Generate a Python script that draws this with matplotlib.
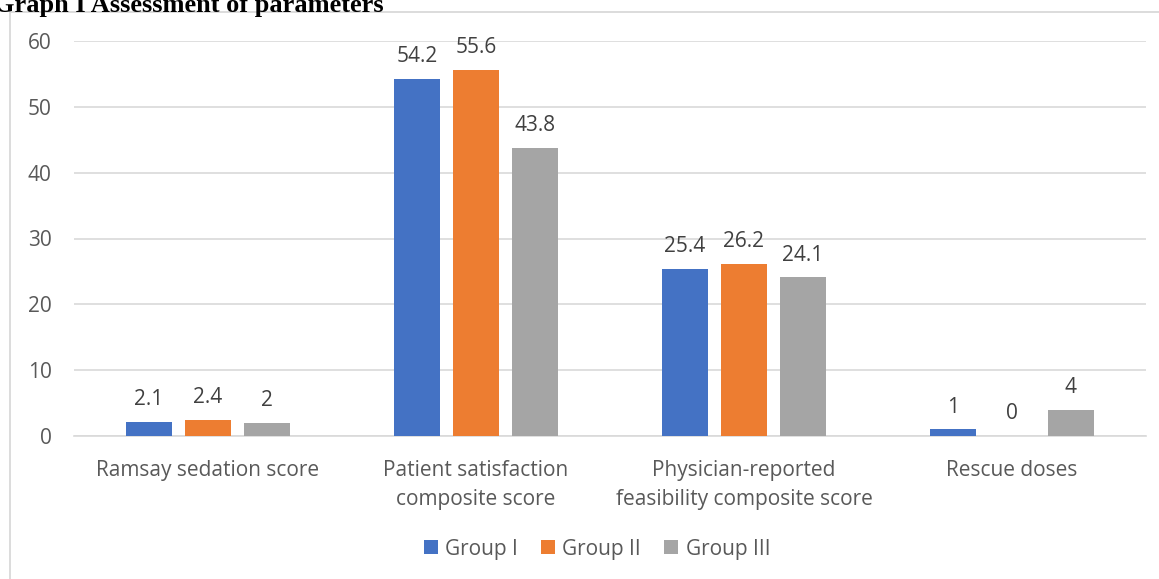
import matplotlib
matplotlib.use("Agg")
import matplotlib.pyplot as plt
from matplotlib.patches import Rectangle
import numpy as np

categories = ["Ramsay sedation score", "Patient satisfaction\ncomposite score",
              "Physician-reported\nfeasibility composite score", "Rescue doses"]
series_names = ["Group I", "Group II", "Group III"]
group1 = [2.1, 54.2, 25.4, 1]
group2 = [2.4, 55.6, 26.2, 0]
group3 = [2, 43.8, 24.1, 4]
colors = ["#4472C4", "#ED7D31", "#A5A5A5"]
yticks = [0, 10, 20, 30, 40, 50, 60]

W, H = 1159, 579
fig = plt.figure(figsize=(W / 100, H / 100), dpi=100)
font = "Open Sans"
txtc = "#595959"
fs = 15

# outer chart border
fig.patches.append(Rectangle((10 / W, -0.1), 1.2, 1 - 12 / H + 0.1, transform=fig.transFigure,
                             fill=False, edgecolor="#D9D9D9", linewidth=1.3))
fig.text(-6 / W, 1 - 12 / H, "Graph I Assessment of parameters", family="Liberation Serif",
         fontweight="bold", fontsize=19, va="baseline", ha="left", color="black")

ax = fig.add_axes([74 / W, 1 - 436 / H, (1146 - 74) / W, (436 - 41) / H])
x = np.arange(len(categories))
bw = 0.175
step = 0.22
for i, (vals, name, c) in enumerate(zip([group1, group2, group3], series_names, colors)):
    pos = x + (i - 1) * step
    ax.bar(pos, vals, width=bw, color=c, label=name, zorder=3)
    for p, v in zip(pos, vals):
        ax.annotate(f"{v:g}", (p, v), xytext=(0, 8.5), textcoords="offset points",
                    ha="center", va="bottom", fontsize=fs, color="#404040",
                    family=font, annotation_clip=False)

ax.set_xlim(-0.5, len(categories) - 0.5)
ax.set_ylim(0, 60)
ax.set_yticks(yticks)
ax.set_yticklabels([str(t) for t in yticks], family=font, fontsize=fs, color=txtc)
ax.yaxis.grid(True, color="#D9D9D9", linewidth=1.2, zorder=0)
ax.set_axisbelow(True)
ax.tick_params(axis="y", length=0, pad=16)
ax.tick_params(axis="x", length=0, pad=17.5)
ax.set_xticks(x)
ax.set_xticklabels(categories, family=font, fontsize=fs, color=txtc, linespacing=1.45)
for s in ["top", "right", "left"]:
    ax.spines[s].set_visible(False)
ax.spines["bottom"].set_color("#D9D9D9")
ax.spines["bottom"].set_linewidth(1.2)

leg = fig.legend(loc="center", bbox_to_anchor=(597 / W, 1 - 549 / H), ncol=3, frameon=False,
                 prop={"family": font, "size": fs}, handlelength=0.68, handleheight=0.68,
                 handletextpad=0.35, columnspacing=1.1)
for t in leg.get_texts():
    t.set_color(txtc)

fig.savefig("out.png", dpi=100)
